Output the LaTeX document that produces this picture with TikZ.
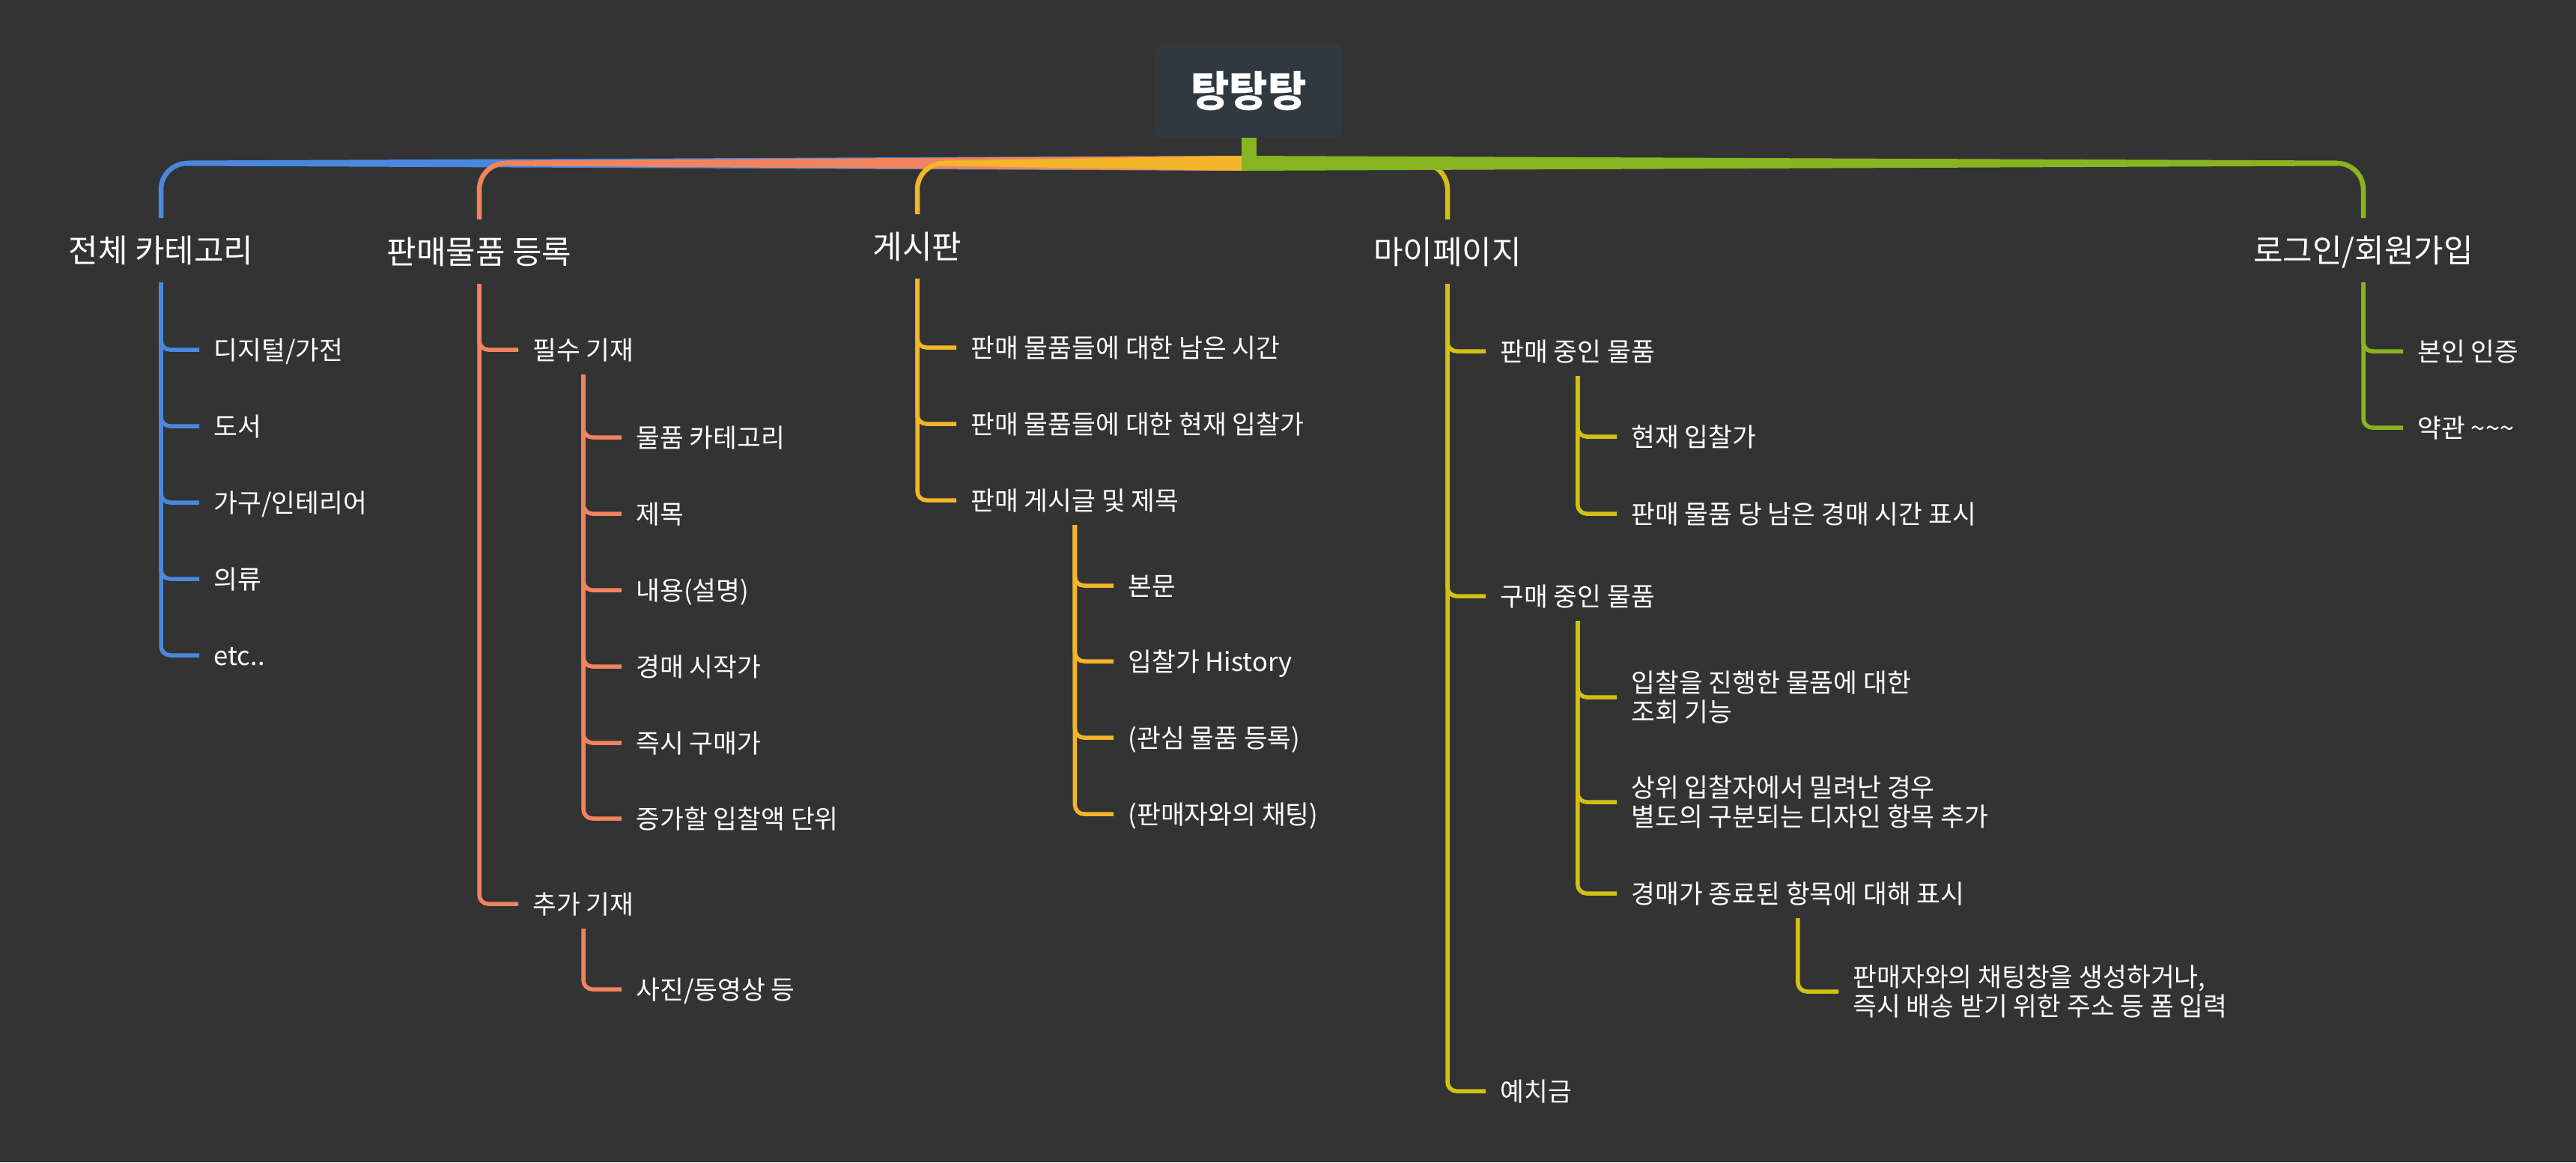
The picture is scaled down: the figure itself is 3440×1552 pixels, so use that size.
\documentclass[tikz,border=0pt]{standalone}
\usepackage{fontspec}
\setmainfont{Noto Sans CJK KR}
\usetikzlibrary{calc}
\definecolor{bg}{HTML}{333333}
\definecolor{rootfill}{HTML}{303840}
\definecolor{cblue}{HTML}{4A88DF}
\definecolor{corange}{HTML}{F0845F}
\definecolor{camber}{HTML}{F2B628}
\definecolor{colive}{HTML}{D4C015}
\definecolor{cgreen}{HTML}{89B421}
\newcommand\bandL[2]{%
  \fill[#1] ($(trunk)+(0,-10)$) -- ($(#2.north|-trunk)+(35,-3.5)$) -- ($(#2.north|-trunk)+(35,3.5)$) -- ($(trunk)+(0,10)$) -- cycle;
  \draw[#1,bandline] ($(#2.north|-trunk)+(35,0)$) -| (#2.north);}
\newcommand\bandR[2]{%
  \fill[#1] ($(trunk)+(0,-10)$) -- ($(#2.north|-trunk)+(-35,-3.5)$) -- ($(#2.north|-trunk)+(-35,3.5)$) -- ($(trunk)+(0,10)$) -- cycle;
  \draw[#1,bandline] ($(#2.north|-trunk)+(-35,0)$) -| (#2.north);}
\begin{document}
\begin{tikzpicture}[x=0.5pt,y=-0.5pt,
  l1/.style={font=\fontsize{21.5}{25}\selectfont, text=white, text height=18.92pt, text depth=2.58pt, inner xsep=0pt, inner ysep=10.75pt, outer sep=0pt},
  l2/.style={font=\fontsize{17.3}{19.75}\selectfont, text=white, text height=15.22pt, text depth=2.08pt, inner xsep=9.75pt, inner ysep=7.85pt, outer sep=0pt, anchor=west},
  l2m/.style={font=\fontsize{17.3}{19.75}\selectfont, text=white, inner xsep=9.75pt, inner ysep=7.85pt, outer sep=0pt, anchor=west, align=left},
  conn/.style={line width=2.75pt, rounded corners=6pt},
  bandline/.style={line width=3.25pt, rounded corners=17.5pt}]
\useasboundingbox (0,0) rectangle (3440,1552);
\fill[bg] (0,0) rectangle (3440,1552);

% root
\node[fill=rootfill, rounded corners=6pt, minimum width=125.5pt, minimum height=62.5pt, inner sep=0pt, outer sep=0pt, text=white, font=\fontsize{28}{32}\selectfont\bfseries, text height=24.64pt, text depth=3.36pt] (root) at (1667.5,121.5) {탕탕탕};
\coordinate (trunk) at (1658,218);

% level 1
\node[l1] (cat) at (215,334) {전체 카테고리};
\node[l1] (reg) at (640,336) {판매물품 등록};
\node[l1] (board) at (1225,329) {게시판};
\node[l1] (my) at (1933,336) {마이페이지};
\node[l1] (login) at (3156,334) {로그인/회원가입};

% blue children
\node[l2] (b1) at (266,467) {디지털/가전};
\node[l2] (b2) at (266,569) {도서};
\node[l2] (b3) at (266,671) {가구/인테리어};
\node[l2] (b4) at (266,773) {의류};
\node[l2] (b5) at (266,875) {etc..};

% orange children
\node[l2] (o1) at (692,467) {필수 기재};
\node[l2] (o2) at (692,1207) {추가 기재};
\node[l2] (o11) at (830,584) {물품 카테고리};
\node[l2] (o12) at (830,686) {제목};
\node[l2] (o13) at (830,788) {내용(설명)};
\node[l2] (o14) at (830,890) {경매 시작가};
\node[l2] (o15) at (830,992) {즉시 구매가};
\node[l2] (o16) at (830,1093) {증가할 입찰액 단위};
\node[l2] (o21) at (830,1321) {사진/동영상 등};

% amber children
\node[l2] (a1) at (1277,464) {판매 물품들에 대한 남은 시간};
\node[l2] (a2) at (1277,566) {판매 물품들에 대한 현재 입찰가};
\node[l2] (a3) at (1277,668) {판매 게시글 및 제목};
\node[l2] (a31) at (1487,782) {본문};
\node[l2] (a32) at (1487,883) {입찰가 History};
\node[l2] (a33) at (1487,985) {(관심 물품 등록)};
\node[l2] (a34) at (1487,1087) {(판매자와의 채팅)};

% olive children
\node[l2] (m1) at (1984,469) {판매 중인 물품};
\node[l2] (m11) at (2159,583) {현재 입찰가};
\node[l2] (m12) at (2159,686) {판매 물품 당 남은 경매 시간 표시};
\node[l2] (m2) at (1984,796) {구매 중인 물품};
\node[l2m] (m21) at (2159,931) {입찰을 진행한 물품에 대한\\조회 기능};
\node[l2m] (m22) at (2159,1071) {상위 입찰자에서 밀려난 경우\\별도의 구분되는 디자인 항목 추가};
\node[l2] (m23) at (2159,1193) {경매가 종료된 항목에 대해 표시};
\node[l2m] (m231) at (2455,1324) {판매자와의 채팅창을 생성하거나,\\즉시 배송 받기 위한 주소 등 폼 입력};
\node[l2] (m3) at (1984,1457) {예치금};

% green children
\node[l2] (g1) at (3209,469) {본인 인증};
\node[l2] (g2) at (3209,571) {약관 \textasciitilde\textasciitilde\textasciitilde};

% stub and bands
\draw[cgreen, line width=10pt] (root.south) -- (root.south|-trunk);
\bandL{cblue}{cat}
\bandL{corange}{reg}
\bandL{camber}{board}
\bandR{colive}{my}
\bandR{cgreen}{login}

% connectors
\foreach \c in {b1,b2,b3,b4,b5} \draw[conn,cblue] (cat.south) |- (\c.west);
\foreach \c in {o1,o2} \draw[conn,corange] (reg.south) |- (\c.west);
\foreach \c in {o11,o12,o13,o14,o15,o16} \draw[conn,corange] (o1.south) |- (\c.west);
\draw[conn,corange] (o2.south) |- (o21.west);
\foreach \c in {a1,a2,a3} \draw[conn,camber] (board.south) |- (\c.west);
\foreach \c in {a31,a32,a33,a34} \draw[conn,camber] (a3.south) |- (\c.west);
\foreach \c in {m1,m2,m3} \draw[conn,colive] (my.south) |- (\c.west);
\foreach \c in {m11,m12} \draw[conn,colive] (m1.south) |- (\c.west);
\foreach \c in {m21,m22,m23} \draw[conn,colive] (m2.south) |- (\c.west);
\draw[conn,colive] (m23.south) |- (m231.west);
\foreach \c in {g1,g2} \draw[conn,cgreen] (login.south) |- (\c.west);
\end{tikzpicture}
\end{document}
